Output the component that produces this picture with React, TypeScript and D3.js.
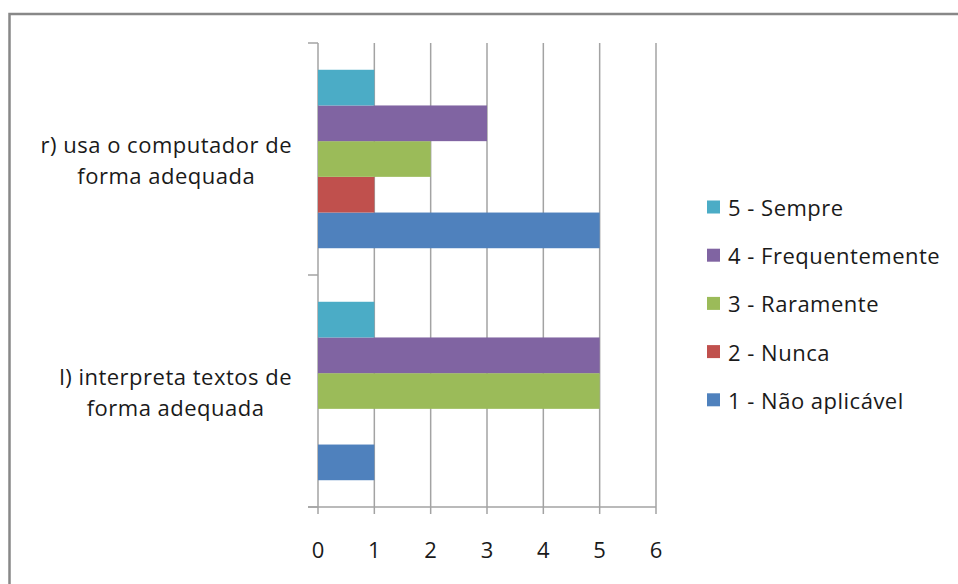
import React from "react";
import * as d3 from "d3";

const categories = ["l) interpreta textos de forma adequada", "r) usa o computador de forma adequada"];
const categoryLines = [
  ["l) interpreta textos de", "forma adequada"],
  ["r) usa o computador de", "forma adequada"],
];
const seriesNames = ["1 - Não aplicável", "2 - Nunca", "3 - Raramente", "4 - Frequentemente", "5 - Sempre"];
const seriesColors = ["#4F81BD", "#C0504D", "#9BBB59", "#8064A2", "#4BACC6"];
// values per series, per category [l), r)]
const naoAplicavel = [1, 5];
const nunca = [0, 1];
const raramente = [5, 2];
const frequentemente = [5, 3];
const sempre = [1, 1];
const seriesValues = [naoAplicavel, nunca, raramente, frequentemente, sempre];
const xTicks = [0, 1, 2, 3, 4, 5, 6];

const W = 958;
const H = 584;
const FONT = "'Open Sans', Lato, sans-serif";
const FS = 22;
const LS = 0.5;
const TEXT = "#1a1a1a";
const GRID = "#a3a3a3";

export default function App() {
  const left = 318, right = 656, top = 43, bottom = 507;
  const x = d3.scaleLinear().domain([0, 6]).range([left, right]);
  // categories: bottom first
  const y = d3.scaleBand<number>().domain([1, 0]).range([top, bottom]).paddingInner(0).paddingOuter(0);
  const bw = y.bandwidth();
  const barH = bw / 6.5;
  const pad = (bw - 5 * barH) / 2;

  const measure = (() => {
    const c = typeof document !== "undefined" ? document.createElement("canvas").getContext("2d") : null;
    return (s: string) => {
      if (!c) return s.length * FS * 0.55;
      c.font = `${FS}px 'Open Sans'`;
      return c.measureText(s).width + LS * s.length;
    };
  })();

  return (
    <svg width={W} height={H} style={{ position: "absolute", left: 0, top: 0 }}>
      <rect x={0} y={0} width={W} height={H} fill="#fff" />
      <rect x={9.5} y={14} width={W + 20} height={H + 20} fill="#fff" stroke="#888" strokeWidth={2.5} />
      {/* gridlines */}
      {xTicks.map((t) => (
        <line key={"g" + t} x1={x(t)} x2={x(t)} y1={top} y2={bottom + 7} stroke={GRID} strokeWidth={1.5} />
      ))}
      {/* bottom axis */}
      <line x1={308} x2={right} y1={bottom} y2={bottom} stroke={GRID} strokeWidth={1.5} />
      {/* y ticks */}
      {[top, y(0)!, bottom].map((v, i) => (
        <line key={"yt" + i} x1={308} x2={left} y1={v} y2={v} stroke={GRID} strokeWidth={1.5} />
      ))}
      {/* bars */}
      {seriesValues.map((vals, s) =>
        vals.map((v, ci) => {
          const yb = y(ci)! + bw - pad - (s + 1) * barH;
          return v > 0 ? (
            <rect key={`b${s}-${ci}`} x={x(0)} y={yb} width={x(v) - x(0)} height={barH} fill={seriesColors[s]} />
          ) : null;
        })
      )}
      {/* tick labels */}
      {xTicks.map((t) => (
        <text key={"xl" + t} x={x(t)} y={549} fontFamily={FONT} fontSize={FS} fill={TEXT} textAnchor="middle" dominantBaseline="central">
          {t}
        </text>
      ))}
      {/* category labels */}
      {categoryLines.map((lines, ci) => {
        const maxW = Math.max(...lines.map(measure));
        const cx = 292 - maxW / 2;
        const cy = y(ci)! + bw / 2;
        return (
          <g key={"cl" + ci}>
            {lines.map((ln, li) => (
              <text key={li} x={cx} y={cy + (li - (lines.length - 1) / 2) * 31} fontFamily={FONT} fontSize={FS} letterSpacing={LS} fill={TEXT} textAnchor="middle" dominantBaseline="central">
                {ln}
              </text>
            ))}
          </g>
        );
      })}
      {/* legend */}
      {seriesNames.map((_, k) => {
        const s = seriesNames.length - 1 - k;
        const cy = 207 + k * 48.2;
        return (
          <g key={"lg" + s}>
            <rect x={707} y={cy - 6.5} width={13} height={13} fill={seriesColors[s]} />
            <text x={728} y={cy} fontFamily={FONT} fontSize={FS} letterSpacing={LS} fill={TEXT} dominantBaseline="central">
              {seriesNames[s]}
            </text>
          </g>
        );
      })}
    </svg>
  );
}
